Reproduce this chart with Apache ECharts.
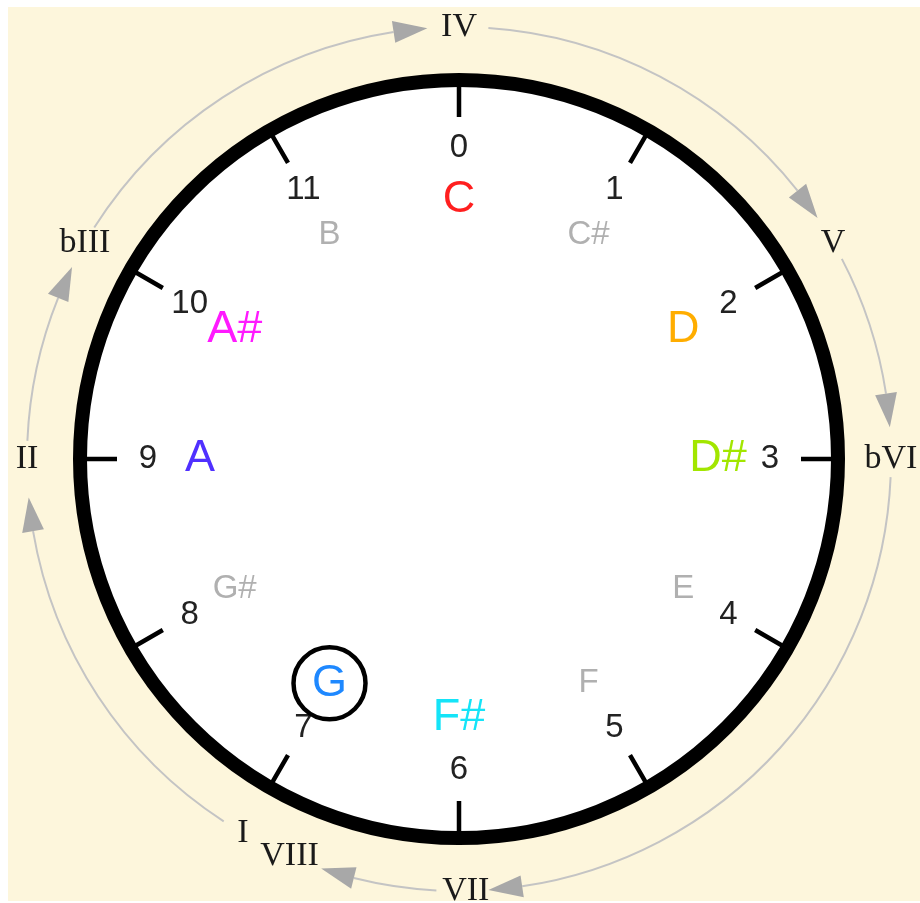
<!DOCTYPE html>
<html>
<head>
<meta charset="utf-8">
<title>Pitch class clock</title>
<script src="https://cdn.jsdelivr.net/npm/echarts@6/dist/echarts.min.js"></script>
<style>
  html, body { margin: 0; padding: 0; background: #fff; }
  #paper { position: absolute; left: 8px; top: 7px; width: 912px; height: 894px; background: #fdf6dc; }
  #chart { position: absolute; left: 0; top: 0; width: 920px; height: 903px; }
</style>
</head>
<body>
<div id="paper"></div>
<div id="chart"></div>
<script>
// pitch classes round the clock, 0 at the top, clockwise
const pitchClasses = ['0', '1', '2', '3', '4', '5', '6', '7', '8', '9', '10', '11'];
const noteNames = ['C', 'C#', 'D', 'D#', 'E', 'F', 'F#', 'G', 'G#', 'A', 'A#', 'B'];
const noteColors = ['#ff1f1f', '#b0b0b0', '#ffad00', '#a2e600', '#b0b0b0', '#b0b0b0',
                    '#14e4f8', '#1e88ff', '#b0b0b0', '#5030ff', '#ff1aff', '#b0b0b0'];
const inScale = [1, 0, 1, 1, 0, 0, 1, 1, 0, 1, 1, 0];
const tonic = 7;

// scale degrees outside the ring, position in pitch-class steps
const degreeNames = ['IV', 'V', 'bVI', 'VII', 'VIII', 'I', 'II', 'bIII'];
const degreePos = [0, 2, 3, 5.97, 6.77, 7, 9, 10];

// grey arrows between the degrees: start / tip, in pitch-class steps
const arrowFrom = [7.1, 9.08, 10.08, 0.13, 2.08, 3.08, 6.1];
const arrowTo = [8.83, 9.88, 11.86, 1.87, 2.86, 5.87, 6.62];

const CX = 459, CY = 459;
const RING = 379;      // middle of the black rim
const OUTER = 432;     // circle of the roman numerals
const NUM_R = 311, NOTE_R = 259;
const HEAD_LEN = 34, HEAD_W = 11;
const SANS = '"Liberation Sans", Arial, sans-serif';
const SERIF = '"Liberation Serif", "Times New Roman", serif';
const CLEAR = { color: 'rgba(0,0,0,0)', opacity: 1 };

const chart = echarts.init(document.getElementById('chart'));

const option = {
    animation: false,
    polar: [
        { center: [CX, CY], radius: RING },
        { center: [CX, CY], radius: OUTER }
    ],
    angleAxis: [
        {
            polarIndex: 0, type: 'value', min: 0, max: 12, interval: 1,
            startAngle: 90, clockwise: true, z: 3,
            axisLine: { lineStyle: { color: '#000', width: 14 } },
            axisTick: { inside: true, length: 37, lineStyle: { color: '#000', width: 4.5 } },
            axisLabel: { show: false },
            splitLine: { show: false }
        },
        { polarIndex: 1, type: 'value', min: 0, max: 12, startAngle: 90, show: false }
    ],
    radiusAxis: [
        { polarIndex: 0, type: 'value', min: 0, max: RING, show: false },
        { polarIndex: 1, type: 'value', min: 0, max: 1, show: false }
    ],
    series: [
        {
            // white clock face
            type: 'pie', center: [CX, CY], radius: [0, RING], silent: true, z: 1,
            label: { show: false }, labelLine: { show: false },
            itemStyle: { color: '#fff', borderWidth: 0 },
            data: [{ value: 1 }]
        },
        {
            type: 'scatter', coordinateSystem: 'polar', polarIndex: 0, silent: true, z: 4,
            symbolSize: 1, itemStyle: CLEAR,
            label: { show: true, position: 'inside', formatter: '{b}', color: '#222', opacity: 1, fontSize: 33, fontFamily: SANS },
            data: pitchClasses.map(function (p, i) {
                return { name: p, value: [NUM_R, i] }
            })
        },
        {
            type: 'scatter', coordinateSystem: 'polar', polarIndex: 0, silent: true, z: 5,
            label: { show: true, position: 'inside', formatter: '{b}', opacity: 1, fontFamily: SANS },
            data: noteNames.map(function (n, i) {
                return {
                    name: n,
                    value: [NOTE_R, i],
                    symbolSize: i === tonic ? 72 : 1,
                    itemStyle: i === tonic
                        ? { color: '#fff', borderColor: '#000', borderWidth: 4.5, opacity: 1 }
                        : CLEAR,
                    label: { color: noteColors[i], fontSize: inScale[i] ? 45 : 33 }
                }
            })
        },
        {
            type: 'scatter', coordinateSystem: 'polar', polarIndex: 1, silent: true, z: 5,
            symbolSize: 1, itemStyle: CLEAR,
            label: { show: true, position: 'inside', formatter: '{b}', color: '#1a1a1a', opacity: 1, fontSize: 34, fontFamily: SERIF },
            data: degreeNames.map(function (d, i) {
                return { name: d, value: [1, degreePos[i]] }
            })
        },
        {
            type: 'custom', coordinateSystem: 'polar', polarIndex: 1, silent: true, z: 4,
            data: arrowFrom.map(function (f, i) { return [1, f, arrowTo[i]] }),
            renderItem: function (params, api) {
                const cs = params.coordSys;
                const from = api.value(1), to = api.value(2);
                const headSteps = HEAD_LEN / cs.r * 180 / Math.PI / 30;
                const toRad = function (s) { return (s * 30 - 90) * Math.PI / 180 };
                const tip = api.coord([1, to]);
                const base = api.coord([1, to - headSteps]);
                const ox = (base[0] - cs.cx) / cs.r, oy = (base[1] - cs.cy) / cs.r;
                return {
                    type: 'group',
                    children: [
                        {
                            type: 'arc',
                            shape: { cx: cs.cx, cy: cs.cy, r: cs.r, startAngle: toRad(from), endAngle: toRad(to - headSteps), clockwise: true },
                            style: { stroke: '#c4c4c4', lineWidth: 2, fill: null }
                        },
                        {
                            type: 'polygon',
                            shape: { points: [tip, [base[0] + ox * HEAD_W, base[1] + oy * HEAD_W], [base[0] - ox * HEAD_W, base[1] - oy * HEAD_W]] },
                            style: { fill: '#a8a8a8' }
                        }
                    ]
                }
            }
        }
    ]
};
chart.setOption(option);
</script>
</body>
</html>
